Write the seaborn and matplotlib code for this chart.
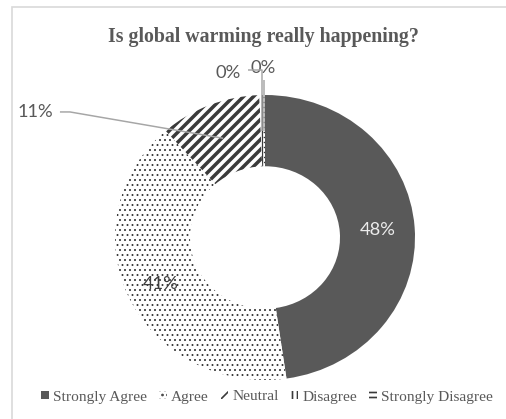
import numpy as np
import matplotlib
matplotlib.use("Agg")
import matplotlib.pyplot as plt
import seaborn as sns
from matplotlib.patches import Rectangle

# Survey answers, share of respondents (%)
categories = ["Strongly Agree", "Agree", "Neutral", "Disagree", "Strongly Disagree"]
shares = [48, 41, 11, 0.4, 0.2]

# Monochrome fills: solid, dots, diagonal stripes, vertical lines, horizontal lines
hatches = ["", "....", "////", "||||", "----"]
faces = ["#595959", "white", "white", "white", "white"]
hatch_widths = [1.0, 0.6, 2.1, 0.8, 0.8]

sns.set_theme(style="white")
plt.rcParams["font.family"] = ["Liberation Serif", "DejaVu Serif"]

DPI = 120
W, H = 507, 419
fig = plt.figure(figsize=(W / DPI, H / DPI), dpi=DPI)
fig.patch.set_facecolor("white")
ax = fig.add_axes([0, 0, 1, 1])

wedges, _ = ax.pie(
    shares,
    startangle=90,
    counterclock=False,
    colors=faces,
    radius=1.0,
    wedgeprops=dict(width=0.5, linewidth=0),
)
for w, h, hw in zip(wedges, hatches, hatch_widths):
    w.set_edgecolor("#3a3a3a")
    w.set_linewidth(0)
    if h:
        w.set_hatch(h)
        if hasattr(w, "set_hatch_linewidth"):
            w.set_hatch_linewidth(hw)

# Slight horizontal stretch of the ring
cx, cy, sx, sy = 265.0, 237.5, 150.0, 142.5
ax.set_xlim(-cx / sx, (W - cx) / sx)
ax.set_ylim((cy - H) / sy, cy / sy)
ax.set_aspect("auto")
ax.axis("off")

total = sum(shares)
pct = [f"{round(v / total * 100):.0f}%" for v in shares]


def ring_point(wedge, r):
    a = np.radians((wedge.theta1 + wedge.theta2) / 2)
    return r * np.cos(a), r * np.sin(a)


label_font = dict(family=["Lato", "DejaVu Sans"], fontsize=11)
lead = dict(color="#a6a6a6", lw=0.9, solid_capstyle="butt", zorder=5)

# Labels inside the ring
x0, y0 = ring_point(wedges[0], 0.755)
ax.text(x0, y0, pct[0], ha="center", va="center", color="#ececec", **label_font)
x1, y1 = ring_point(wedges[1], 0.77)
ax.text(x1, y1, pct[1], ha="center", va="center", color="#404040", **label_font)

# Neutral, with leader line
ex, ey = ring_point(wedges[2], 0.75)
ax.plot([-1.367, -1.30, ex], [0.881, 0.881, ey], **lead)
ax.text(-1.533, 0.881, pct[2], ha="center", va="center", color="#595959", **label_font)

# Disagree
dx, dy = ring_point(wedges[3], 0.75)
ax.plot([-0.113, dx, dx], [1.175, 1.175, dy], **lead)
ax.text(-0.247, 1.154, pct[3], ha="center", va="center", color="#595959", **label_font)

# Strongly Disagree
sxp, syp = ring_point(wedges[4], 0.75)
ax.plot([sxp, sxp], [1.105, syp], **lead)
ax.text(-0.013, 1.189, pct[4], ha="center", va="center", color="#595959", **label_font)

fig.text(263 / W, 1 - 37 / H, "Is global warming really happening?",
         ha="center", va="center", fontsize=11.9, fontweight="bold",
         color="#595959")

leg = ax.legend(
    wedges, categories,
    loc="center", bbox_to_anchor=(267 / W, 22 / H), bbox_transform=fig.transFigure,
    ncol=5, frameon=False, fontsize=9.2, labelcolor="#595959",
    handlelength=0.5, handleheight=0.5, handletextpad=0.25, columnspacing=0.8,
)

# Chart frame
fig.patches.append(Rectangle((12 / W, -0.2), 1.5, 1.2 - 7 / H,
                             transform=fig.transFigure, fill=False,
                             edgecolor="#d9d9d9", lw=1.0))

fig.savefig("out.png", dpi=DPI, facecolor="white")
